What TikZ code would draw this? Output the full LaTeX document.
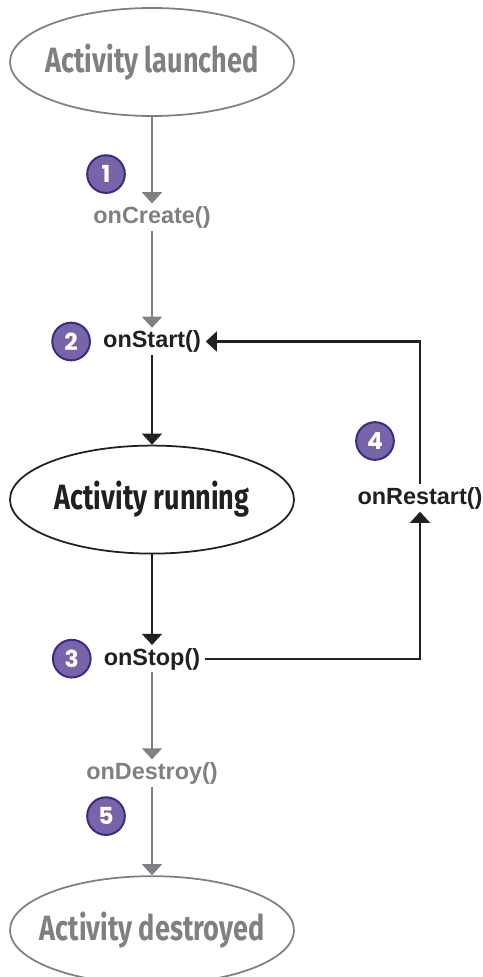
\documentclass[tikz,border=0pt]{standalone}
\usepackage{fontspec}
\setmainfont{Liberation Sans}
\newfontfamily\handfont{Fira Sans}[FakeStretch=0.77]
\newfontfamily\badgefont{Poppins}
\usetikzlibrary{shapes.geometric,arrows.meta,positioning}
\definecolor{lcGray}{HTML}{808084}
\definecolor{lcInk}{HTML}{231F20}
\definecolor{lcBadge}{HTML}{7764A9}
\definecolor{lcBadgeLine}{HTML}{3C2A83}
\newcommand{\lcLabel}[1]{\makebox[0pt]{#1}}
\tikzset{
    lcState/.style={
        ellipse,
        draw=#1,
        line width=1.5pt,
        text=#1,
        minimum width=8.52cm,
        minimum height=3.24cm,
        inner sep=0pt,
        font=\handfont\bfseries\fontsize{30}{30}\selectfont
    },
    lcMethod/.style={
        text=#1,
        font=\bfseries\fontsize{20}{20}\selectfont,
        text height=15pt,
        text depth=4pt,
        inner xsep=4pt,
        inner ysep=2pt
    },
    lcBadgeNode/.style={
        circle,
        fill=lcBadge,
        draw=lcBadgeLine,
        line width=1.7pt,
        minimum size=1.13cm,
        inner sep=0pt,
        text=white,
        font=\badgefont\bfseries\fontsize{20}{20}\selectfont
    },
    % Arrows
    lcArrow/.style={-{Triangle[width=17pt,length=9.5pt]}, line width=1.8pt, draw=#1}
}
\begin{document}
\begin{tikzpicture}
\useasboundingbox (0,0) rectangle (14.46,-29.31);

% main column
\node[lcState=lcGray] (launched) at (4.56,-1.86) {\lcLabel{Activity launched}};
\node[lcMethod=lcGray, below=2.595cm of launched] (create) {onCreate()};
\node[lcMethod=lcInk, below=2.91cm of create] (start) {onStart()};
\node[lcState=lcInk, below=2.685cm of start] (running) {\lcLabel{Activity running}};
\node[lcMethod=lcInk, below=2.715cm of running] (stop) {onStop()};
\node[lcMethod=lcGray, below=2.61cm of stop] (destroy) {onDestroy()};
\node[lcState=lcGray, below=2.655cm of destroy] (destroyed) {\lcLabel{Activity destroyed}};
\node[lcMethod=lcInk] (restart) at (12.6,-14.94) {onRestart()};

% numbered badges
\node[lcBadgeNode, xshift=-1.38cm, yshift=1.29cm] (b1) at (create) {1};
\node[lcBadgeNode, left=0.22cm of start] (b2) {2};
\node[lcBadgeNode, left=0.22cm of stop] (b3) {3};
\node[lcBadgeNode, xshift=-1.35cm, yshift=1.71cm] (b4) at (restart) {4};
\node[lcBadgeNode, xshift=-1.38cm, yshift=-1.29cm] (b5) at (destroy) {5};

\draw[lcArrow=lcGray] (launched) -- (create);
\draw[lcArrow=lcGray] (create) -- (start);
\draw[lcArrow=lcInk] (start) -- (running);
\draw[lcArrow=lcInk] (running) -- (stop);
\draw[lcArrow=lcGray] (stop) -- (destroy);
\draw[lcArrow=lcGray] (destroy) -- (destroyed);
\draw[lcArrow=lcInk] (stop.east) -| (restart.south);
\draw[lcArrow=lcInk] (restart.north) |- (start.east);
\end{tikzpicture}
\end{document}
